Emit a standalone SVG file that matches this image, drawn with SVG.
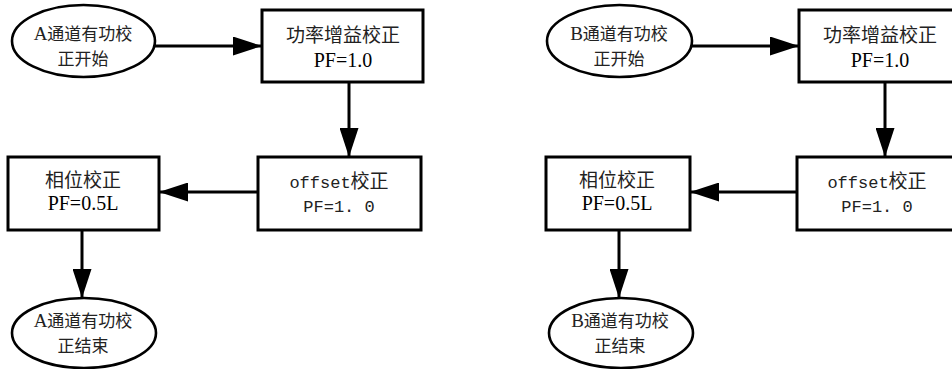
<svg xmlns="http://www.w3.org/2000/svg" width="952" height="369" viewBox="0 0 952 369">
<style>
.box{fill:#fff;stroke:#000;stroke-width:3}
.ell{fill:#fff;stroke:#000;stroke-width:2.6}
.t{font-family:"Liberation Serif","Noto Sans CJK SC",serif;font-size:20px;fill:#000;text-anchor:middle}
.cj{font-family:"Noto Sans CJK SC",sans-serif;font-size:19px;fill:#222;text-anchor:middle}
.ce{font-family:"Noto Sans CJK SC",sans-serif;font-size:17px;fill:#222;text-anchor:middle}
.m{font-family:"Liberation Mono","Noto Sans CJK SC",monospace;font-size:17px;fill:#222}
.lat{font-family:"Liberation Serif",serif;font-size:19px}
.c{stroke:#000;stroke-width:3;fill:none;marker-end:url(#ah)}
</style>
<defs>
<marker id="ah" viewBox="0 0 29 19" refX="29" refY="9.5" markerWidth="29" markerHeight="19" markerUnits="userSpaceOnUse" orient="auto">
<path d="M0,0 L29,9.5 L0,19 z" fill="#000"/>
</marker>
</defs>
<rect width="952" height="369" fill="#fff"/>
<g id="connectors">
<line class="c" x1="155" y1="46" x2="262" y2="46"/>
<line class="c" x1="349" y1="82" x2="349" y2="157"/>
<line class="c" x1="258" y1="192" x2="159" y2="192"/>
<line class="c" x1="82" y1="230" x2="82" y2="298"/>
<line class="c" x1="692" y1="46" x2="799" y2="46"/>
<line class="c" x1="885" y1="82" x2="885" y2="157"/>
<line class="c" x1="797" y1="192" x2="690" y2="192"/>
<line class="c" x1="619" y1="230" x2="619" y2="298"/>
</g>
<g id="a-start">
<ellipse class="ell" cx="83.5" cy="41" rx="71.5" ry="36"/>
<text class="ce" x="83" y="40"><tspan class="lat">A</tspan>通道有功校</text>
<text class="ce" x="83" y="65">正开始</text>
</g>
<g id="a-gain">
<rect class="box" x="262" y="10" width="161" height="72"/>
<text class="cj" x="343" y="42">功率增益校正</text>
<text class="t" x="343" y="67">PF=1.0</text>
</g>
<g id="a-offset">
<rect class="box" x="258" y="157" width="163" height="73"/>
<text class="cj" x="339" y="188"><tspan class="m">offset</tspan>校正</text>
<text class="m" x="339" y="212" text-anchor="middle" font-size="16">PF=1. 0</text>
</g>
<g id="a-phase">
<rect class="box" x="8" y="157" width="151" height="73"/>
<text class="cj" x="83" y="187">相位校正</text>
<text class="t" x="83" y="210">PF=0.5L</text>
</g>
<g id="a-end">
<ellipse class="ell" cx="84" cy="333" rx="72" ry="35"/>
<text class="ce" x="83" y="327"><tspan class="lat">A</tspan>通道有功校</text>
<text class="ce" x="83" y="352">正结束</text>
</g>
<g id="b-start">
<ellipse class="ell" cx="619.5" cy="41" rx="72.5" ry="36"/>
<text class="ce" x="619" y="40"><tspan class="lat">B</tspan>通道有功校</text>
<text class="ce" x="619" y="65">正开始</text>
</g>
<g id="b-gain">
<rect class="box" x="799" y="10" width="162" height="72"/>
<text class="cj" x="880" y="42">功率增益校正</text>
<text class="t" x="880" y="67">PF=1.0</text>
</g>
<g id="b-offset">
<rect class="box" x="797" y="157" width="164" height="73"/>
<text class="cj" x="877" y="188"><tspan class="m">offset</tspan>校正</text>
<text class="m" x="877" y="212" text-anchor="middle" font-size="16">PF=1. 0</text>
</g>
<g id="b-phase">
<rect class="box" x="546" y="157" width="144" height="73"/>
<text class="cj" x="617" y="187">相位校正</text>
<text class="t" x="617" y="210">PF=0.5L</text>
</g>
<g id="b-end">
<ellipse class="ell" cx="621" cy="333" rx="72" ry="35"/>
<text class="ce" x="620" y="327"><tspan class="lat">B</tspan>通道有功校</text>
<text class="ce" x="620" y="352">正结束</text>
</g>
</svg>
